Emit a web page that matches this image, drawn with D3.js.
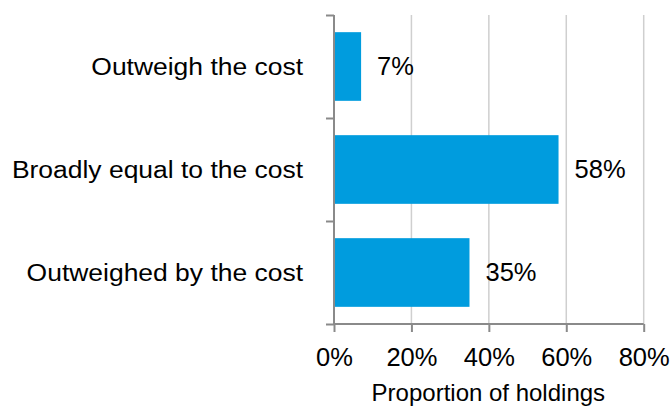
<!DOCTYPE html>
<html>
<head>
<meta charset="utf-8">
<script src="https://cdn.jsdelivr.net/npm/d3@7"></script>
<style>
  html, body { margin: 0; padding: 0; background: #fff; }
  svg { display: block; }
  text { font-family: "Liberation Sans", Arial, sans-serif; fill: #000; }
</style>
</head>
<body>
<svg id="chart" width="671" height="406"></svg>
<script>
const categories = ["Outweigh the cost", "Broadly equal to the cost", "Outweighed by the cost"];
const values = [7, 58, 35];
const valueLabels = ["7%", "58%", "35%"];
const xTicks = [0, 20, 40, 60, 80];
const xTickLabels = ["0%", "20%", "40%", "60%", "80%"];
const xTitle = "Proportion of holdings";

(function () {
const svg = d3.select("#chart");
const pLeft = 334, pRight = 643.7, pTop = 15, pBottom = 324;

const x = d3.scaleLinear().domain([0, 80]).range([pLeft, pRight]);
const y = d3.scaleBand().domain(categories).range([pTop, pBottom])
  .paddingInner(1/3).paddingOuter(1/6);

// gridlines
svg.append("g").selectAll("line").data(xTicks.filter(d => d > 0)).join("line")
  .attr("x1", d => x(d)).attr("x2", d => x(d))
  .attr("y1", pTop).attr("y2", pBottom)
  .attr("stroke", "#cfcfcf").attr("stroke-width", 1.5);

// bars
svg.append("g").selectAll("rect").data(categories).join("rect")
  .attr("x", x(0))
  .attr("y", d => y(d))
  .attr("width", (d, i) => x(values[i]) - x(0))
  .attr("height", y.bandwidth())
  .attr("fill", "#009cde");

// value labels
svg.append("g").selectAll("text").data(categories).join("text")
  .attr("x", (d, i) => x(values[i]) + 16)
  .attr("y", d => y(d) + y.bandwidth() / 2)
  .attr("dy", "0.35em")
  .style("font-size", "25.5px")
  .text((d, i) => valueLabels[i]);

// x axis
const xAxis = d3.axisBottom(x).tickValues(xTicks).tickSize(8).tickFormat((d, i) => xTickLabels[i]);
const gx = svg.append("g").attr("transform", `translate(0,${pBottom})`).call(xAxis);
gx.select(".domain").attr("stroke", "#8a8a8a").attr("stroke-width", 2)
  .attr("d", `M${pLeft},0H${pRight}`);
gx.selectAll(".tick line").attr("stroke", "#8a8a8a").attr("stroke-width", 2);
gx.selectAll(".tick text").attr("y", 0).attr("dy", null)
  .attr("transform", "translate(0,41.5)")
  .style("font-size", "25.5px").style("font-family", "Liberation Sans, Arial, sans-serif").attr("fill", "#000");

// y axis (category boundaries)
const yb = d3.scaleLinear().domain([0, categories.length]).range([pTop, pBottom]);
const yAxis = d3.axisLeft(yb).tickValues(d3.range(categories.length + 1)).tickSize(8).tickFormat("");
const gy = svg.append("g").attr("transform", `translate(${pLeft},0)`).call(yAxis);
gy.select(".domain").attr("stroke", "#8a8a8a").attr("stroke-width", 2)
  .attr("d", `M0,${pTop}V${pBottom}`);
gy.selectAll(".tick line").attr("stroke", "#8a8a8a").attr("stroke-width", 2);

// category labels
svg.append("g").selectAll("text").data(categories).join("text")
  .attr("transform", d => `translate(303,${y(d) + y.bandwidth() / 2 + 8.3}) scale(1.08,1)`)
  .attr("text-anchor", "end")
  .style("font-size", "24.5px")
  .text(d => d);

// x title
svg.append("text")
  .attr("x", (372.7 + 604) / 2)
  .attr("y", 400.5)
  .attr("text-anchor", "middle")
  .style("font-size", "24px")
  .text(xTitle);
})();
</script>
</body>
</html>
